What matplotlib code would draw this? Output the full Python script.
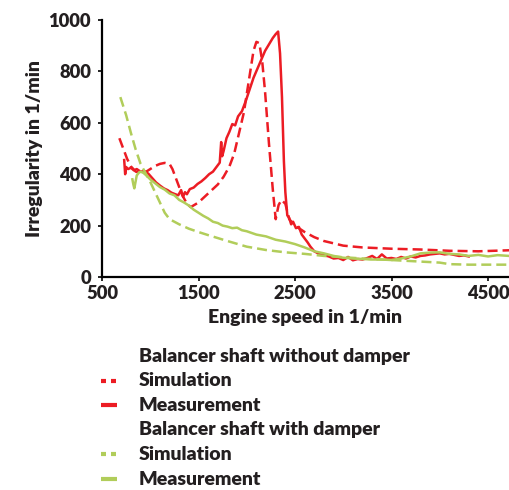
import matplotlib
matplotlib.use("Agg")
import matplotlib.pyplot as plt
from matplotlib.lines import Line2D

# ── Data ──────────────────────────────────────────────────────────────────────
RED_SIM_X = [680, 720, 760, 800, 850, 900, 950, 1000, 1050, 1100,
             1150, 1200, 1230, 1280, 1330, 1380, 1420, 1500, 1600, 1700,
             1760, 1820, 1870, 1920, 1970, 2020, 2070, 2100, 2130, 2160,
             2190, 2230, 2270, 2300, 2330, 2360, 2400, 2440, 2500, 2600,
             2700, 2800, 3000, 3200, 3500, 3800, 4100, 4400, 4720]
RED_SIM_Y = [540, 500, 460, 430, 410, 405, 408, 420, 432, 440,
             444, 440, 420, 370, 320, 285, 272, 290, 325, 360,
             390, 430, 480, 560, 640, 760, 880, 915, 910, 840,
             720, 520, 340, 225, 280, 300, 285, 225, 200, 175,
             155, 140, 122, 115, 110, 107, 102, 100, 104]

RED_MEAS_X = [730, 740, 750, 770, 800, 830, 860, 900, 940, 980,
              1020, 1060, 1100, 1140, 1180, 1220, 1260, 1290, 1320, 1340,
              1360, 1380, 1410, 1450, 1490, 1530, 1570, 1610, 1650, 1690,
              1720, 1735, 1745, 1760, 1790, 1820, 1850, 1880, 1910, 1950,
              1990, 2030, 2070, 2110, 2150, 2190, 2230, 2270, 2300, 2325,
              2345, 2365, 2385, 2400, 2420, 2440, 2460, 2480, 2510, 2540,
              2570, 2600, 2630, 2660, 2700, 2750, 2800, 2850, 2900, 2950,
              3000, 3050, 3100, 3150, 3200, 3250, 3300, 3350, 3400, 3450,
              3500, 3550, 3600, 3650, 3700, 3750, 3800, 3850, 3900, 3950,
              4000, 4050, 4100, 4150, 4200, 4250, 4300]
RED_MEAS_Y = [455, 400, 428, 420, 425, 415, 420, 410, 412, 402,
              385, 368, 356, 345, 338, 328, 322, 318, 338, 312,
              330, 322, 342, 348, 362, 372, 385, 400, 410, 430,
              445, 525, 470, 490, 540, 565, 595, 590, 625, 645,
              685, 730, 775, 810, 845, 880, 905, 930, 945, 955,
              870, 700, 450, 330, 240, 230, 205, 215, 190, 195,
              165, 150, 135, 118, 100, 90, 85, 80, 72, 74,
              66, 78, 65, 70, 68, 74, 82, 70, 88, 72,
              74, 70, 78, 72, 80, 76, 82, 84, 88, 90,
              92, 88, 90, 86, 82, 84, 80]

GREEN_SIM_X = [690, 750, 800, 850, 900, 950, 1000, 1050, 1100, 1150,
               1200, 1300, 1400, 1500, 1600, 1800, 2000, 2200, 2400, 2600,
               2800, 3000, 3200, 3400, 3600, 3800, 4000, 4100, 4300, 4500, 4720]
GREEN_SIM_Y = [700, 630, 560, 495, 440, 405, 370, 330, 290, 250,
               225, 205, 188, 175, 163, 140, 118, 105, 96, 90,
               82, 77, 72, 68, 64, 60, 56, 50, 48, 48, 48]

GREEN_MEAS_X = [815, 825, 835, 845, 860, 880, 900, 930, 960, 1000,
                1050, 1100, 1150, 1200, 1250, 1300, 1350, 1400, 1450, 1500,
                1550, 1600, 1650, 1700, 1750, 1800, 1850, 1900, 1950, 2000,
                2100, 2200, 2300, 2400, 2500, 2600, 2700, 2800, 2900, 3000,
                3100, 3200, 3300, 3400, 3500, 3600, 3700, 3800, 3900, 4000,
                4100, 4200, 4300, 4400, 4500, 4600, 4720]
GREEN_MEAS_Y = [380, 360, 345, 365, 395, 405, 410, 405, 395, 380,
                365, 350, 340, 325, 318, 300, 290, 278, 262, 250,
                238, 228, 215, 210, 200, 196, 190, 192, 182, 178,
                165, 158, 145, 138, 128, 115, 100, 92, 82, 75,
                72, 70, 68, 68, 66, 72, 80, 92, 95, 96,
                90, 88, 82, 86, 80, 85, 82]

X_TICKS = [500, 1500, 2500, 3500, 4500]
Y_TICKS = [0, 200, 400, 600, 800, 1000]

# ── Style ─────────────────────────────────────────────────────────────────────
RED = "#ec1c24"
GREEN = "#b1cd5a"
TXT = "#231f20"
FS = 14
plt.rcParams["font.family"] = ["Lato", "DejaVu Sans"]
plt.rcParams["font.weight"] = "heavy"

W, H = 509, 490
fig = plt.figure(figsize=(W / 100, H / 100), dpi=100)
ax = fig.add_axes([102 / W, (H - 277) / H, (W - 102) / W, (277 - 20) / H])

ax.plot(RED_SIM_X, RED_SIM_Y, color=RED, lw=1.8, ls=(0, (4, 2)))
ax.plot(RED_MEAS_X, RED_MEAS_Y, color=RED, lw=1.8)
ax.plot(GREEN_SIM_X, GREEN_SIM_Y, color=GREEN, lw=1.8, ls=(0, (4, 2)))
ax.plot(GREEN_MEAS_X, GREEN_MEAS_Y, color=GREEN, lw=1.8)

ax.set_xlim(500, 500 + (W - 102) / 96.5 * 1000)
ax.set_ylim(0, 1000)
ax.set_xticks(X_TICKS)
ax.set_yticks(Y_TICKS)
for s in ("top", "right"):
    ax.spines[s].set_visible(False)
for s in ("left", "bottom"):
    ax.spines[s].set_linewidth(1.6)
    ax.spines[s].set_color("black")
ax.tick_params(length=3, width=1.2, labelsize=13.2, labelcolor=TXT)
ax.tick_params(axis="y", pad=5)
ax.tick_params(axis="x", pad=3)
ax.set_xlabel("Engine speed in 1/min", fontsize=FS, fontweight="heavy",
              color=TXT, labelpad=5)
ax.set_ylabel("Irregularity in 1/min", fontsize=FS, fontweight="heavy",
              color=TXT, labelpad=4)

# ── Manual legend below the axes ─────────────────────────────────────────────
legend_rows = [
    ("Balancer shaft without damper", None, None),
    ("Simulation", RED, (0, (1.2, 1.2))),
    ("Measurement", RED, "-"),
    ("Balancer shaft with damper", None, None),
    ("Simulation", GREEN, (0, (1.2, 1.2))),
    ("Measurement", GREEN, "-"),
]
for i, (label, color, style) in enumerate(legend_rows):
    ypix = 356 + i * 24.6
    yf = 1 - ypix / H
    fig.text(139 / W, yf, label, fontsize=FS, fontweight="heavy",
             color=TXT, va="center", ha="left")
    if color is not None:
        fig.add_artist(Line2D([101 / W, 117 / W], [yf, yf], color=color,
                              lw=3, ls=style, solid_capstyle="butt",
                              dash_capstyle="butt", transform=fig.transFigure))

fig.savefig("out.png", dpi=100)
